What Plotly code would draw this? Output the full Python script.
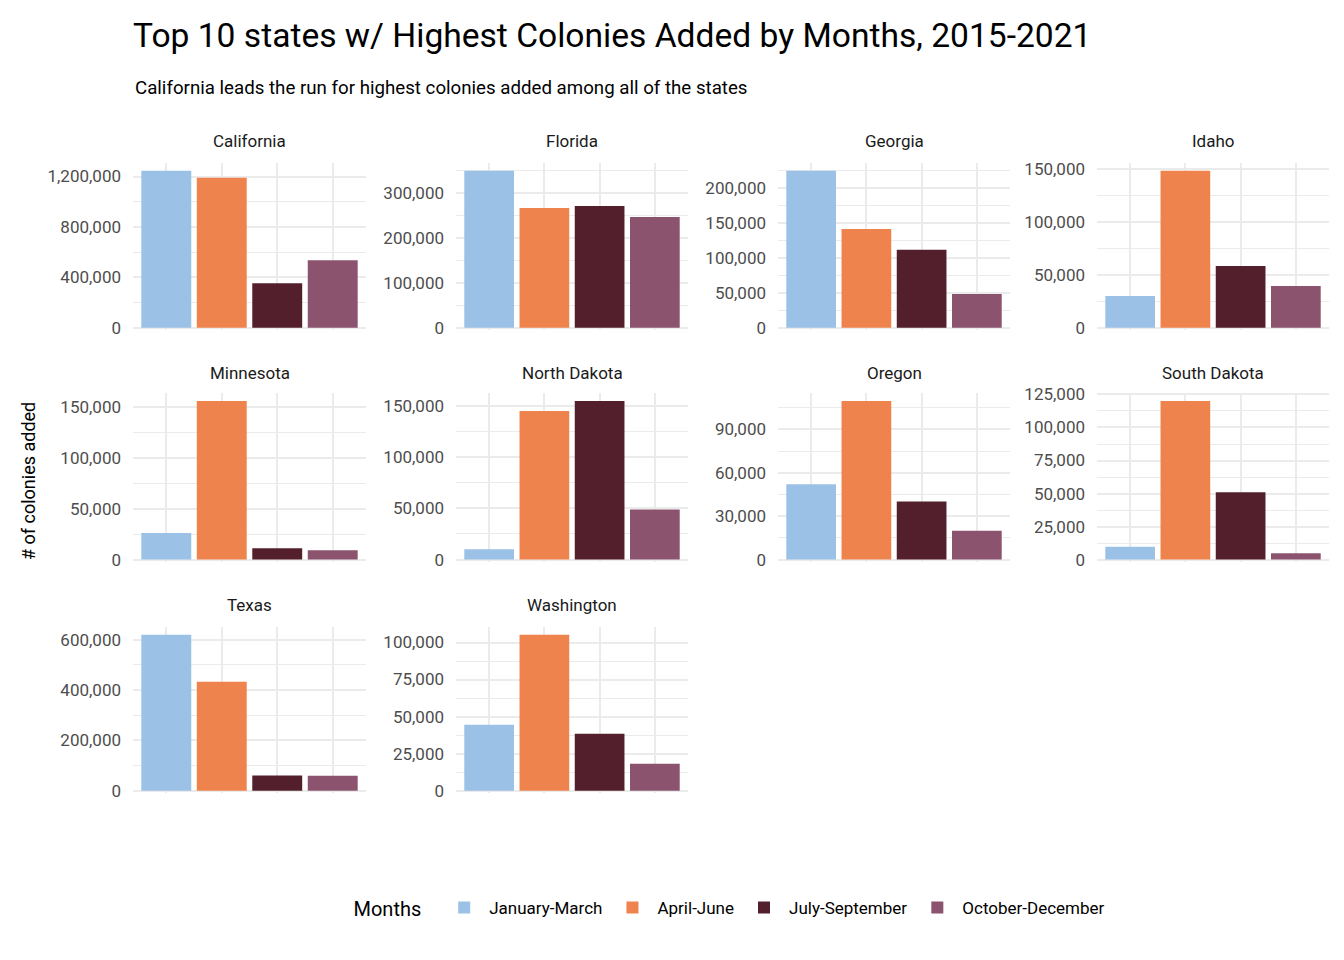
import plotly.graph_objects as go

# ---- data ----
states = ["California", "Florida", "Georgia", "Idaho", "Minnesota",
          "North Dakota", "Oregon", "South Dakota", "Texas", "Washington"]
months = ["January-March", "April-June", "July-September", "October-December"]
jan_mar = [1245000, 350000, 224800, 30000, 26300, 10200, 52100, 9700, 619900, 44500]
apr_jun = [1190000, 267300, 141600, 148400, 156300, 144800, 109600, 120100, 433100, 105200]
jul_sep = [352000, 271800, 111500, 58400, 11300, 154700, 40200, 50900, 60000, 38400]
oct_dec = [536000, 247200, 48300, 39500, 9300, 48800, 19900, 4900, 59000, 18200]
tick_steps = [400000, 100000, 50000, 50000, 50000, 50000, 30000, 25000, 200000, 25000]

series = [jan_mar, apr_jun, jul_sep, oct_dec]
colors = ["#9BC1E6", "#EF834D", "#541F2C", "#8B536E"]

FONT = "Roboto, Liberation Sans, Arial, sans-serif"
W, H = 1344, 960

col_px = [(133, 366), (456, 688), (778, 1010), (1097, 1329)]
row_px = [(163, 330), (393, 562), (627, 793)]
strip_px = [141, 373, 605]

fig = go.Figure()
layout_axes = {}
annotations = []

for i, st in enumerate(states):
    r, c = divmod(i, 4)
    k = i + 1
    xa = "x" if k == 1 else f"x{k}"
    ya = "y" if k == 1 else f"y{k}"
    for m, (mname, vals, colr) in enumerate(zip(months, series, colors)):
        fig.add_trace(go.Bar(
            x=[mname], y=[vals[i]], name=mname, marker_color=colr,
            marker_line_width=0, width=0.9, xaxis=xa, yaxis=ya,
            legendgroup=mname, showlegend=(i == 0),
        ))
    vmax = max(s[i] for s in series)
    step = tick_steps[i]
    x0, x1 = col_px[c]
    y0, y1 = row_px[r]
    xkey = "xaxis" if k == 1 else f"xaxis{k}"
    ykey = "yaxis" if k == 1 else f"yaxis{k}"
    layout_axes[xkey] = dict(
        domain=[x0 / W, x1 / W], anchor=ya, type="category",
        categoryorder="array", categoryarray=months,
        range=[-0.6, 3.6], showticklabels=False, ticks="",
        showgrid=True, gridcolor="#EBEBEB", gridwidth=2,
        zeroline=False, showline=False, fixedrange=True, automargin=False,
    )
    layout_axes[ykey] = dict(
        domain=[1 - y1 / H, 1 - y0 / H], anchor=xa,
        range=[-0.015 * vmax, 1.05 * vmax], dtick=step, tick0=0,
        tickformat=",d", showgrid=True, gridcolor="#EBEBEB", gridwidth=2,
        minor=dict(dtick=step / 2, tick0=0, showgrid=True,
                   gridcolor="#EBEBEB", gridwidth=1),
        zeroline=False, showline=False, ticks="", ticklabelstandoff=11,
        automargin=False,
        tickfont=dict(family=FONT, size=17, color="#4D4D4D"),
    )
    annotations.append(dict(
        text=st, x=(x0 + x1) / 2 / W, y=1 - strip_px[r] / H,
        xref="paper", yref="paper", xanchor="center", yanchor="middle",
        showarrow=False, font=dict(family=FONT, size=17, color="#1A1A1A"),
    ))

annotations.append(dict(
    text="# of colonies added", x=28 / W, y=1 - 481 / H, textangle=-90,
    xref="paper", yref="paper", xanchor="center", yanchor="middle",
    showarrow=False, font=dict(family=FONT, size=18, color="#000000"),
))
annotations.append(dict(
    text="California leads the run for highest colonies added among all of the states",
    x=133 / W, y=1 - 88 / H, xref="paper", yref="paper",
    xanchor="left", yanchor="middle", showarrow=False,
    font=dict(family=FONT, size=18.7, color="#000000"),
))

fig.update_layout(
    width=W, height=H,
    margin=dict(l=0, r=0, t=0, b=0, autoexpand=False),
    paper_bgcolor="white", plot_bgcolor="white",
    barmode="overlay",
    title=dict(text="Top 10 states w/ Highest Colonies Added by Months, 2015-2021",
               x=133 / W, xanchor="left", y=1 - 35 / H, yanchor="middle",
               font=dict(family=FONT, size=33.6, color="#000000")),
    legend=dict(orientation="h", x=731 / W, xanchor="center",
                y=1 - 908 / H, yanchor="middle",
                title=dict(text="Months  ", font=dict(family=FONT, size=20, color="#000000")),
                font=dict(family=FONT, size=17, color="#000000"),
                itemwidth=40, tracegroupgap=0),
    annotations=annotations,
    showlegend=True,
    **layout_axes,
)

fig.write_html("out.html")
